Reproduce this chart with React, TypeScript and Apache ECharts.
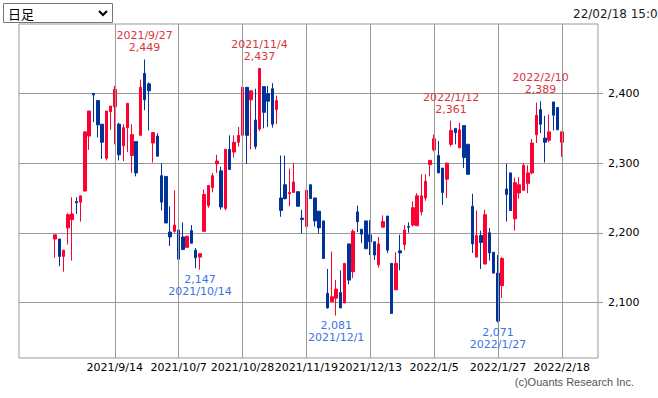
import React, { useEffect, useRef } from 'react';
import * as echarts from 'echarts';

const dates = [
  '2021/8/25','2021/8/26','2021/8/27','2021/8/30','2021/8/31',
  '2021/9/1','2021/9/2','2021/9/3','2021/9/6','2021/9/7','2021/9/8','2021/9/9','2021/9/10','2021/9/13','2021/9/14',
  '2021/9/15','2021/9/16','2021/9/17','2021/9/21','2021/9/22','2021/9/24','2021/9/27','2021/9/28','2021/9/29','2021/9/30',
  '2021/10/1','2021/10/4','2021/10/5','2021/10/6','2021/10/7',
  '2021/10/8','2021/10/11','2021/10/12','2021/10/13','2021/10/14','2021/10/15','2021/10/18','2021/10/19','2021/10/20','2021/10/21',
  '2021/10/22','2021/10/25','2021/10/26','2021/10/27','2021/10/28',
  '2021/10/29','2021/11/1','2021/11/2','2021/11/4','2021/11/5','2021/11/8','2021/11/9','2021/11/10','2021/11/11','2021/11/12',
  '2021/11/15','2021/11/16','2021/11/17','2021/11/18','2021/11/19',
  '2021/11/22','2021/11/24','2021/11/25','2021/11/26','2021/11/29','2021/11/30','2021/12/1','2021/12/2','2021/12/3','2021/12/6',
  '2021/12/7','2021/12/8','2021/12/9','2021/12/10','2021/12/13',
  '2021/12/14','2021/12/15','2021/12/16','2021/12/17','2021/12/20','2021/12/21','2021/12/22','2021/12/23','2021/12/24','2021/12/27',
  '2021/12/28','2021/12/29','2021/12/30','2022/1/4','2022/1/5',
  '2022/1/6','2022/1/7','2022/1/11','2022/1/12','2022/1/13','2022/1/14','2022/1/17','2022/1/18','2022/1/19','2022/1/20',
  '2022/1/21','2022/1/24','2022/1/25','2022/1/26','2022/1/27',
  '2022/1/28','2022/1/31','2022/2/1','2022/2/2','2022/2/3','2022/2/4','2022/2/7','2022/2/8','2022/2/9','2022/2/10',
  '2022/2/14','2022/2/15','2022/2/16','2022/2/17','2022/2/18',
];

const opens = [
  2191, 2191, 2166, 2207, 2219, 2245, 2244, 2260, 2339, 2400,
  2390, 2356, 2307, 2374, 2381, 2356, 2325, 2351, 2311, 2331,
  2340, 2429, 2414, 2329, 2339, 2282, 2281, 2201, 2202, 2204,
  2194, 2179, 2203, 2175, 2165, 2202, 2239, 2265, 2299, 2289,
  2235, 2320, 2316, 2330, 2340, 2409, 2391, 2362, 2349, 2410,
  2400, 2407, 2377, 2250, 2269, 2256, 2258, 2259, 2221, 2209,
  2269, 2250, 2231, 2217, 2113, 2101, 2106, 2114, 2099, 2184,
  2144, 2230, 2205, 2217, 2197, 2187, 2154, 2208, 2224, 2156,
  2118, 2174, 2183, 2209, 2211, 2210, 2230, 2250, 2298, 2319,
  2311, 2293, 2277, 2327, 2350, 2322, 2354, 2327, 2238, 2165,
  2196, 2155, 2200, 2172, 2142, 2124, 2263, 2286, 2220, 2257,
  2261, 2271, 2286, 2341, 2377, 2336, 2333, 2388, 2380, 2330,
];

const closes = [
  2197, 2166, 2175, 2226, 2227, 2243, 2253, 2345, 2375, 2398,
  2355, 2330, 2375, 2382, 2406, 2312, 2351, 2386, 2341, 2286,
  2409, 2391, 2404, 2344, 2310, 2244, 2214, 2194, 2211, 2162,
  2176, 2195, 2185, 2164, 2170, 2255, 2268, 2282, 2303, 2237,
  2320, 2291, 2330, 2340, 2409, 2340, 2404, 2324, 2436, 2373,
  2389, 2356, 2390, 2232, 2249, 2258, 2273, 2238, 2219, 2261,
  2249, 2217, 2207, 2163, 2092, 2108, 2119, 2092, 2156, 2132,
  2202, 2216, 2198, 2177, 2187, 2168, 2184, 2216, 2175, 2084,
  2156, 2171, 2204, 2208, 2236, 2253, 2253, 2274, 2304, 2335,
  2286, 2258, 2300, 2347, 2344, 2348, 2308, 2284, 2184, 2196,
  2186, 2226, 2171, 2142, 2073, 2163, 2255, 2232, 2272, 2269,
  2297, 2286, 2329, 2369, 2356, 2330, 2345, 2369, 2348, 2345,
];

const lows = [
  2164, 2152, 2144, 2183, 2160, 2227, 2216, 2259, 2319, 2359,
  2337, 2306, 2304, 2348, 2327, 2304, 2303, 2316, 2286, 2281,
  2340, 2376, 2347, 2301, 2310, 2232, 2214, 2181, 2200, 2162,
  2175, 2179, 2185, 2149, 2147, 2202, 2236, 2258, 2286, 2233,
  2232, 2291, 2308, 2324, 2339, 2299, 2320, 2320, 2346, 2350,
  2352, 2351, 2356, 2223, 2248, 2238, 2258, 2238, 2199, 2209,
  2249, 2209, 2199, 2163, 2091, 2101, 2081, 2092, 2099, 2126,
  2135, 2201, 2185, 2177, 2168, 2161, 2150, 2208, 2171, 2084,
  2118, 2146, 2175, 2200, 2209, 2210, 2225, 2246, 2281, 2317,
  2286, 2240, 2250, 2324, 2327, 2322, 2293, 2284, 2171, 2165,
  2148, 2155, 2160, 2142, 2071, 2106, 2216, 2232, 2203, 2249,
  2261, 2257, 2284, 2329, 2343, 2301, 2330, 2347, 2348, 2309,
];

const highs = [
  2197, 2191, 2175, 2228, 2251, 2251, 2253, 2345, 2375, 2401,
  2390, 2356, 2375, 2382, 2411, 2358, 2356, 2386, 2356, 2331,
  2420, 2449, 2416, 2344, 2343, 2300, 2281, 2238, 2261, 2204,
  2215, 2195, 2211, 2178, 2170, 2262, 2268, 2286, 2312, 2295,
  2320, 2340, 2340, 2352, 2429, 2409, 2404, 2407, 2437, 2410,
  2411, 2415, 2397, 2311, 2311, 2292, 2300, 2259, 2233, 2269,
  2269, 2250, 2231, 2217, 2148, 2173, 2132, 2146, 2156, 2184,
  2205, 2239, 2205, 2217, 2218, 2187, 2194, 2225, 2224, 2156,
  2172, 2197, 2211, 2215, 2245, 2257, 2284, 2284, 2304, 2341,
  2332, 2293, 2301, 2361, 2350, 2358, 2354, 2328, 2256, 2232,
  2203, 2233, 2207, 2172, 2168, 2165, 2299, 2286, 2279, 2280,
  2300, 2297, 2335, 2387, 2389, 2368, 2370, 2388, 2380, 2345,
];

const tickDates = ['2021/9/14', '2021/10/7', '2021/10/28', '2021/11/19', '2021/12/13', '2022/1/5', '2022/1/27', '2022/2/18'];
const yTicks = [2100, 2200, 2300, 2400];

const highMarkDates = ['2021/9/27', '2021/11/4', '2022/1/12', '2022/2/10'];
const highMarkValues = [2449, 2437, 2361, 2389];
const lowMarkDates = ['2021/10/14', '2021/12/1', '2022/1/27'];
const lowMarkValues = [2147, 2081, 2071];

const PAD = 8;
const UP = '#ff0033';
const DOWN = '#003399';
const RED_TEXT = '#d9363e';
const BLUE_TEXT = '#3d73e6';
const GRID = '#999999';
const FONT = 'DejaVu Sans';

const fmt = (v: number) => v.toLocaleString('en-US');

export default function App() {
  const ref = useRef<HTMLDivElement>(null);

  useEffect(() => {
    const chart = echarts.init(ref.current!, null, { renderer: 'svg' });

    const cats: string[] = [];
    const candles: any[] = [];
    for (let i = 0; i < PAD; i++) { cats.push('_a' + i); candles.push('-'); }
    dates.forEach((d, i) => {
      cats.push(d);
      candles.push([opens[i], closes[i], lows[i], highs[i]]);
    });
    for (let i = 0; i < PAD; i++) { cats.push('_b' + i); candles.push('-'); }

    const labelBase = {
      fontFamily: FONT,
      fontSize: 11,
      lineHeight: 12,
    };

    const marks: any[] = [];
    highMarkDates.forEach((d, i) => {
      marks.push({
        coord: [d, highMarkValues[i]],
        value: highMarkValues[i],
        label: {
          ...labelBase,
          show: true,
          position: 'top',
          distance: 5,
          color: RED_TEXT,
          formatter: d + '\n' + fmt(highMarkValues[i]),
        },
      });
    });
    lowMarkDates.forEach((d, i) => {
      marks.push({
        coord: [d, lowMarkValues[i]],
        value: lowMarkValues[i],
        label: {
          ...labelBase,
          show: true,
          position: 'bottom',
          distance: 3,
          color: BLUE_TEXT,
          formatter: fmt(lowMarkValues[i]) + '\n' + d,
        },
      });
    });

    const option: any = {
      animation: false,
      backgroundColor: '#ffffff',
      grid: {
        left: 19,
        right: 60,
        top: 24,
        bottom: 40,
        show: true,
        borderColor: GRID,
        borderWidth: 1,
        backgroundColor: 'transparent',
      },
      xAxis: {
        type: 'category',
        data: cats,
        boundaryGap: true,
        axisLine: { show: false },
        axisTick: { show: false },
        splitLine: { show: false },
        axisLabel: {
          interval: (_idx: number, val: string) => tickDates.indexOf(val) >= 0,
          color: '#000',
          fontFamily: FONT,
          fontSize: 11,
          margin: 4,
        },
      },
      yAxis: {
        type: 'value',
        position: 'right',
        min: 2020,
        max: 2500,
        splitNumber: 5,
        scale: true,
        axisLine: { show: false },
        axisTick: {
          show: true,
          length: 5,
          customValues: yTicks,
          lineStyle: { color: GRID },
        },
        axisLabel: {
          customValues: yTicks,
          formatter: (v: number) => fmt(v),
          color: '#000',
          fontFamily: FONT,
          fontSize: 11,
          margin: 10,
        },
        splitLine: { show: true, lineStyle: { color: GRID, width: 1 } },
      },
      series: [
        {
          type: 'line',
          data: [],
          z: 1,
          silent: true,
          markLine: {
            silent: true,
            symbol: ['none', 'none'],
            label: { show: false },
            lineStyle: { color: GRID, type: 'solid', width: 1 },
            emphasis: { disabled: true },
            data: tickDates.map((d) => ({ xAxis: d })),
          },
        },
        {
          type: 'candlestick',
          z: 3,
          data: candles,
          barWidth: 3,
          itemStyle: {
            color: UP,
            color0: DOWN,
            borderColor: UP,
            borderColor0: DOWN,
            borderWidth: 1,
          },
          markPoint: {
            symbol: 'rect',
            symbolSize: 1,
            silent: true,
            itemStyle: { color: 'rgba(0,0,0,0)' },
            data: marks,
          },
        },
      ],
      graphic: [
        {
          type: 'rect',
          shape: { x: 3.5, y: 3.5, width: 109, height: 19 },
          style: { fill: '#ffffff', stroke: '#767676', lineWidth: 1 },
        },
        {
          type: 'text',
          x: 8,
          y: 13.5,
          style: {
            text: '日足',
            font: '13px "Noto Sans CJK JP"',
            fill: '#000',
            verticalAlign: 'middle',
          },
        },
        {
          type: 'polyline',
          shape: { points: [[99, 11], [103, 15], [107, 11]] },
          style: { stroke: '#000', lineWidth: 2, fill: 'none' },
        },
        {
          type: 'text',
          x: 573,
          y: 14,
          style: {
            text: '22/02/18 15:00',
            font: '12px "DejaVu Sans"',
            fill: '#222',
            verticalAlign: 'middle',
          },
        },
        {
          type: 'text',
          x: 634,
          y: 382,
          style: {
            text: '(c)Ouants Research Inc.',
            font: '11px "Liberation Sans"',
            fill: '#555',
            align: 'right',
            verticalAlign: 'middle',
          },
        },
      ],
    };

    chart.setOption(option);
    return () => chart.dispose();
  }, []);

  return (
    <div
      ref={ref}
      style={{ position: 'absolute', left: 0, top: 0, width: 658, height: 398 }}
    />
  );
}
